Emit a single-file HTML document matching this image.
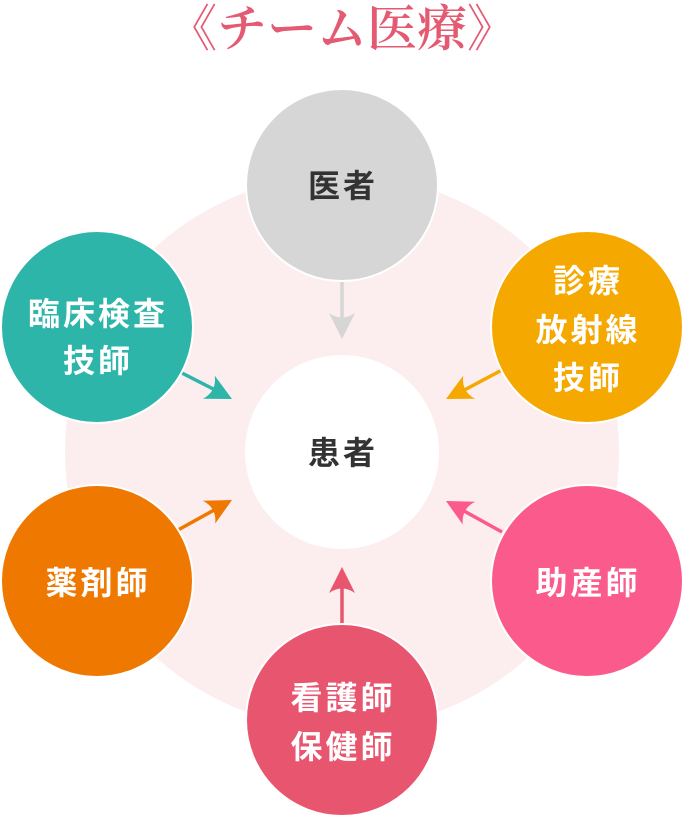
<!DOCTYPE html>
<html><head><meta charset="utf-8"><style>
html,body{margin:0;padding:0;background:#fff;}
svg{display:block;}
.t{font-family:"Liberation Sans","Noto Sans CJK JP",sans-serif;font-weight:bold;font-size:32px;text-anchor:middle;fill:#fff;letter-spacing:3px;}
</style></head><body>
<svg width="684" height="820" viewBox="0 0 684 820" xmlns="http://www.w3.org/2000/svg">
<defs>
<path id="ah" d="M0,0 L-26,-13 Q-17,0 -26,13 Z"/>
</defs>
<text x="342" y="46" text-anchor="middle" font-family="'Noto Serif CJK SC','Liberation Serif',serif" font-weight="600" font-size="50" fill="#e35a72">《チーム医療》</text>
<circle cx="342" cy="452" r="277" fill="#fcedee"/>
<circle cx="342" cy="452" r="97" fill="#fff"/>
<g stroke-width="3.5">
<line x1="342" y1="280" x2="342" y2="330" stroke="#d6d6d6"/>
<use href="#ah" fill="#d6d6d6" transform="translate(342,339) rotate(90)"/>
<line x1="180" y1="372" x2="225" y2="395" stroke="#2eb5aa"/>
<use href="#ah" fill="#2eb5aa" transform="translate(232,399) rotate(27)"/>
<line x1="502" y1="370" x2="455" y2="395" stroke="#f5a800"/>
<use href="#ah" fill="#f5a800" transform="translate(446,399) rotate(153)"/>
<line x1="178" y1="530" x2="225" y2="504" stroke="#ee7800"/>
<use href="#ah" fill="#ee7800" transform="translate(232,500) rotate(-28)"/>
<line x1="502" y1="532" x2="455" y2="506" stroke="#fb5a8c"/>
<use href="#ah" fill="#fb5a8c" transform="translate(446,501) rotate(-152)"/>
<line x1="342" y1="626" x2="342" y2="576" stroke="#e8556e"/>
<use href="#ah" fill="#e8556e" transform="translate(342,567) rotate(-90)"/>
</g>
<g stroke="#fff" stroke-width="2">
<circle cx="342" cy="185" r="96" fill="#d6d6d6"/>
<circle cx="97" cy="327" r="96" fill="#2eb5aa"/>
<circle cx="587" cy="327" r="96" fill="#f5a800"/>
<circle cx="97" cy="581" r="96" fill="#ee7800"/>
<circle cx="587" cy="581" r="96" fill="#fb5a8c"/>
<circle cx="342" cy="720" r="96" fill="#e8556e"/>
</g>
<text class="t" x="343" y="197" style="fill:#333">医者</text>
<text class="t" x="343" y="464" style="fill:#333">患者</text>
<text class="t" x="98" y="325">臨床検査</text>
<text class="t" x="98" y="372">技師</text>
<text class="t" x="588" y="292">診療</text>
<text class="t" x="588" y="341">放射線</text>
<text class="t" x="588" y="389">技師</text>
<text class="t" x="98" y="594">薬剤師</text>
<text class="t" x="588" y="594">助産師</text>
<text class="t" x="343" y="709">看護師</text>
<text class="t" x="343" y="758">保健師</text>
</svg>
</body></html>
